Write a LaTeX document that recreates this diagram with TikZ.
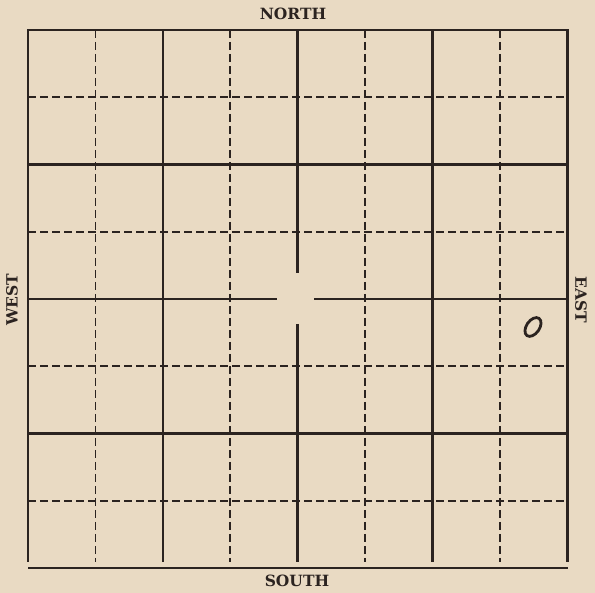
\documentclass[tikz,border=0pt]{standalone}
\usepackage{fontspec}
\setmainfont{DejaVu Serif}
\definecolor{paper}{HTML}{E9DAC3}
\definecolor{ink}{HTML}{2B2320}
\tikzset{
  solidline/.style={draw=ink,line width=2.6pt},
  dashline/.style={draw=ink,line width=1.8pt,dash pattern=on 8pt off 4pt},
  label/.style={text=ink,font=\fontsize{15.5}{15.5}\selectfont\bfseries,inner sep=0pt}
}
\begin{document}
\begin{tikzpicture}[x=1pt,y=1pt]
\fill[paper] (0,0) rectangle (595,593);
\useasboundingbox (0,0) rectangle (595,593);
% dashed grid lines
\foreach \x in {95.4,230.2,365,499.8} \draw[dashline] (\x,563) -- (\x,31);
\foreach \y in {495.75,361.25,226.75,92.25} \draw[dashline] (28,\y) -- (567.2,\y);
% solid grid lines
\foreach \x in {162.8,432.4} \draw[solidline] (\x,563) -- (\x,31);
\foreach \y in {428.5,159.5} \draw[solidline] (28,\y) -- (567.2,\y);
% centre lines with gap
\draw[solidline] (28,294) -- (277,294);
\draw[solidline] (314,294) -- (567.2,294);
\draw[solidline] (297.6,563) -- (297.6,320);
\draw[solidline] (297.6,269) -- (297.6,31);
% frame
\draw[solidline,line join=miter] (28,31) -- (28,563) -- (567.2,563) -- (567.2,31);
\draw[solidline] (28,25) -- (568,25);
% mark
\draw[ink,line width=2.8pt,rotate around={-35:(533,266)}] (533,266) ellipse [x radius=6.5, y radius=10.5];
% labels
\node[label] (north) at (293,579) {NORTH};
\node[label] (south) at (297,12) {SOUTH};
\node[label,rotate=90] (west) at (12,293) {WEST};
\node[label,rotate=-90] (east) at (581,293) {EAST};
\end{tikzpicture}
\end{document}
